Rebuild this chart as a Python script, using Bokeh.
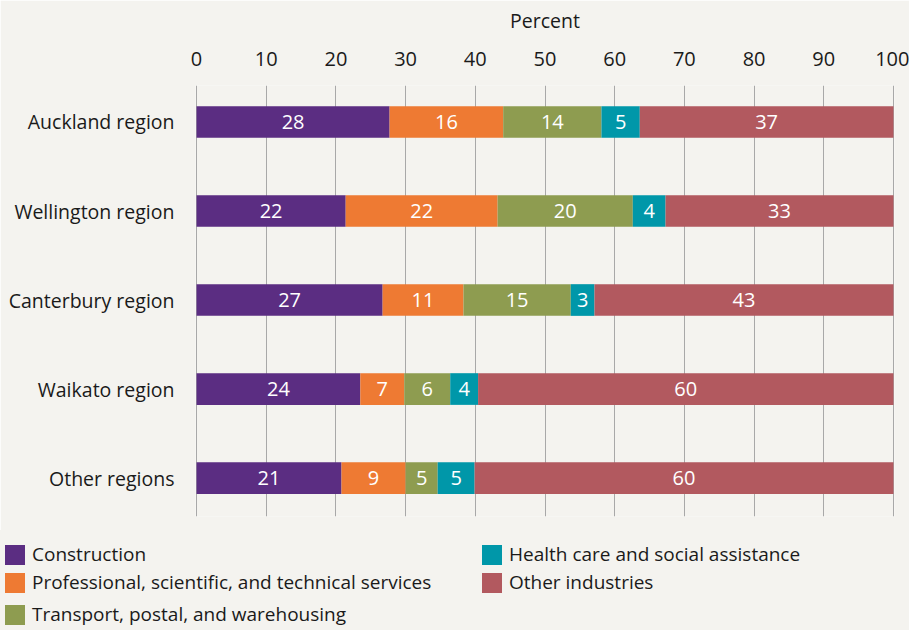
from bokeh.plotting import figure
from bokeh.models import Range1d, FixedTicker, ColumnDataSource, Div
from bokeh.layouts import column
from bokeh.core.properties import value
from bokeh.embed import file_html
from bokeh.resources import INLINE
import numpy as np

regions = ["Auckland region", "Wellington region", "Canterbury region", "Waikato region", "Other regions"]
series_names = ["Construction",
                "Professional, scientific, and technical services",
                "Transport, postal, and warehousing",
                "Health care and social assistance",
                "Other industries"]
construction = [27.7, 21.4, 26.7, 23.5, 20.8]
professional = [16.3, 21.8, 11.6, 6.3, 9.2]
transport = [14.1, 19.4, 15.4, 6.6, 4.6]
health = [5.5, 4.7, 3.4, 4.0, 5.3]
other = [36.4, 32.7, 42.9, 59.6, 60.1]

construction_labels = ["28", "22", "27", "24", "21"]
professional_labels = ["16", "22", "11", "7", "9"]
transport_labels = ["14", "20", "15", "6", "5"]
health_labels = ["5", "4", "3", "4", "5"]
other_labels = ["37", "33", "43", "60", "60"]

x_ticks = [0, 10, 20, 30, 40, 50, 60, 70, 80, 90, 100]

colors = ["#5b2d82", "#ee7a33", "#8e9c50", "#0097a9", "#b2595f"]
BG = "#f4f3ef"
FONT = "Open Sans"
TXT = "#1a1a1a"

values = [construction, professional, transport, health, other]
labels = [construction_labels, professional_labels, transport_labels, health_labels, other_labels]
keys = ["s%d" % i for i in range(5)]

ypos = list(range(len(regions) - 1, -1, -1))
data = {"y": ypos}
for k, v in zip(keys, values):
    data[k] = v
source = ColumnDataSource(data)

p = figure(frame_width=699, frame_height=431,
           min_border_left=195, min_border_right=15, min_border_top=85, min_border_bottom=14,
           x_range=Range1d(-0.15, 100.15), y_range=Range1d(-0.432, 4.41),
           x_axis_location="above", output_backend="svg", toolbar_location=None,
           background_fill_color=BG, border_fill_color=BG, outline_line_color=None)

renderers = p.hbar_stack(keys, y="y", height=0.356, color=colors, line_color=None, source=source)

# segment labels
cum = np.zeros(len(regions))
for v, lab in zip(values, labels):
    v = np.array(v)
    centers = cum + v / 2.0
    p.text(x=list(centers), y=ypos, text=lab, text_align="center", text_baseline="middle",
           text_color="white", text_font=value(FONT), text_font_size="20px")
    cum = cum + v

xa = p.xaxis[0]
xa.ticker = FixedTicker(ticks=x_ticks)
xa.axis_label = "Percent"
xa.axis_label_text_font = FONT
xa.axis_label_text_font_size = "19.5px"
xa.axis_label_text_font_style = "normal"
xa.axis_label_text_color = TXT
xa.axis_label_standoff = 15
xa.major_label_text_font = FONT
xa.major_label_text_font_size = "20px"
xa.major_label_text_color = TXT
xa.major_label_standoff = 20
xa.major_tick_out = 0
xa.major_tick_in = 0
xa.minor_tick_out = 0
xa.axis_line_color = None
xa.major_tick_line_color = None
xa.minor_tick_line_color = None

ya = p.yaxis[0]
ya.ticker = FixedTicker(ticks=ypos)
ya.major_label_overrides = {y: r for y, r in zip(ypos, regions)}
ya.major_label_text_font = FONT
ya.major_label_text_font_size = "19.5px"
ya.major_label_text_color = TXT
ya.major_label_standoff = 21
ya.major_tick_out = 0
ya.major_tick_in = 0
ya.minor_tick_out = 0
ya.axis_line_color = None
ya.major_tick_line_color = None
ya.minor_tick_line_color = None

p.xgrid.ticker = FixedTicker(ticks=x_ticks)
p.xgrid.grid_line_color = "#a8a8a8"
p.xgrid.grid_line_width = 1
p.ygrid.grid_line_color = None

# legend below the chart (two columns)
legend_cols = [[0, 1, 2], [3, 4]]
col_left = [5, 482]
row_top = [15, 43, 75]
parts = ['<div style="position:relative;width:909px;height:100px;background:%s;">' % BG]
for c, idxs in enumerate(legend_cols):
    for r, i in enumerate(idxs):
        parts.append('<div style="position:absolute;left:%dpx;top:%dpx;width:20px;height:20px;background:%s;"></div>'
                     % (col_left[c], row_top[r], colors[i]))
        parts.append('<div style="position:absolute;left:%dpx;top:%dpx;height:20px;line-height:20px;'
                     'white-space:nowrap;font-family:\'Open Sans\';font-size:19px;color:%s;">%s</div>'
                     % (col_left[c] + 27, row_top[r] - 1, TXT, series_names[i]))
parts.append('</div>')
legend_div = Div(text="".join(parts), width=909, height=100, margin=0,
                 styles={"background-color": BG})

layout = column(p, legend_div, spacing=0)
html = file_html(layout, INLINE)
html = html.replace("<body>", '<body style="background:%s">' % BG, 1)
open("out.html", "w").write(html)
